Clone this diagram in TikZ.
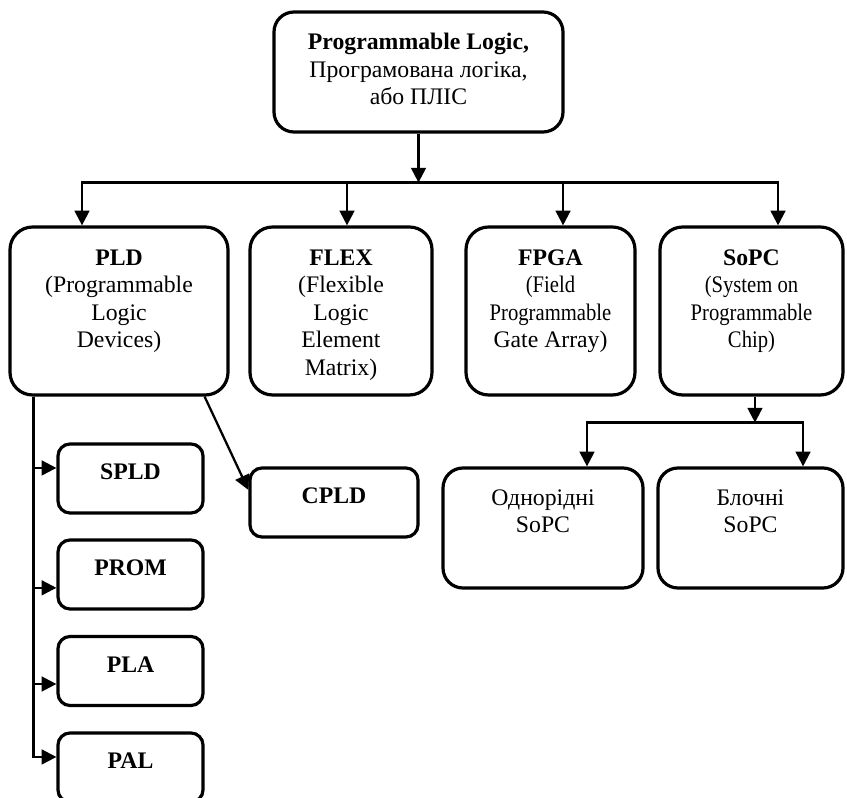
\documentclass[tikz,border=0pt]{standalone}
\usepackage{fontspec}
\setmainfont{Liberation Serif}
\usepackage{graphicx}
\usetikzlibrary{arrows.meta,positioning}

% squeezed lines in the narrow boxes
\newcommand{\condtxt}[1]{\scalebox{0.87}[1]{#1}}

\tikzset{
  box/.style={draw, line width=2.4pt, rounded corners=17pt, inner sep=0pt, minimum height=126pt},
  smallbox/.style={box, rounded corners=9pt, minimum width=108.75pt, minimum height=51.75pt},
  lbl/.style={align=center, inner sep=0pt, font=\fontsize{17.8pt}{20.6pt}\selectfont},
  conn/.style={line width=1.7pt},
  arr/.style={conn, -{Triangle[length=11pt,width=11pt]}},
}

\begin{document}
\begin{tikzpicture}[x=0.75pt, y=-0.75pt]
  \useasboundingbox (0,0) rectangle (847,798);

  % root
  \node[box, rounded corners=15pt, minimum width=216.75pt, minimum height=90pt] (top) at (418.5,72) {};
  \node[lbl, below=17pt of top.north] (toptxt) {\textbf{Programmable Logic,}\\Програмована логіка,\\або ПЛІС};

  % main families
  \node[box, minimum width=163.5pt] (pld) at (119,311) {};
  \node[box, minimum width=136.5pt] (flex) at (341,311) {};
  \node[box, minimum width=126.75pt] (fpga) at (550.5,311) {};
  \node[box, minimum width=137.25pt] (sopc) at (751.5,311) {};

  \node[lbl, below=18pt of pld.north] (pldtxt) {\textbf{PLD}\\(Programmable\\Logic\\Devices)};
  \node[lbl, below=18pt of flex.north] (flextxt) {\textbf{FLEX}\\(Flexible\\Logic\\Element\\Matrix)};
  \node[lbl, below=18pt of fpga.north] (fpgatxt) {\textbf{FPGA}\\\condtxt{(Field}\\\condtxt{Programmable}\\Gate Array)};
  \node[lbl, below=18pt of sopc.north] (sopctxt) {\textbf{SoPC}\\\condtxt{(System on}\\\condtxt{Programmable}\\\condtxt{Chip)}};

  % PLD kinds
  \node[smallbox] (spld) at (130.5,478.5) {};
  \node[smallbox] (prom) at (130.5,574.5) {};
  \node[smallbox] (pla) at (130.5,671) {};
  \node[smallbox] (pal) at (130.5,767.5) {};
  \node[smallbox, minimum width=126pt] (cpld) at (334,502.5) {};

  \node[lbl, below=16pt of spld.north] (spldtxt) {\textbf{SPLD}};
  \node[lbl, below=16pt of prom.north] (promtxt) {\textbf{PROM}};
  \node[lbl, below=16pt of pla.north] (platxt) {\textbf{PLA}};
  \node[lbl, below=16pt of pal.north] (paltxt) {\textbf{PAL}};
  \node[lbl, below=16pt of cpld.north] (cpldtxt) {\textbf{CPLD}};

  % SoPC kinds
  \node[box, rounded corners=15pt, minimum width=150pt, minimum height=90pt] (odn) at (543,528) {};
  \node[box, rounded corners=15pt, minimum width=138.75pt, minimum height=90pt] (blo) at (750.5,528) {};
  \node[lbl, below=17pt of odn.north] (odntxt) {Однорідні\\SoPC};
  \node[lbl, below=17pt of blo.north] (blotxt) {Блочні\\SoPC};

  % root -> families
  \coordinate[below=36.75pt of top.south] (bus);
  \draw[arr] (top) -- (bus);
  \foreach \n/\dx in {pld/-27.75pt, flex/4.5pt, fpga/9.4pt, sopc/19.9pt}
    \draw[arr] (bus) -| ([xshift=\dx]\n.north);

  % PLD -> kinds
  \coordinate (trunk) at ([xshift=18.75pt]pld.south west);
  \foreach \n/\dy in {spld/7.9pt, prom/-10pt, pla/-9.75pt, pal/7.9pt}
    \draw[arr] (trunk) |- ([yshift=\dy]\n.west);
  \draw[arr] ([xshift=-18.75pt]pld.south east) -- ([yshift=9.4pt]cpld.west);

  % SoPC -> kinds
  \coordinate (sbus) at ([shift={(2.6pt,-19.5pt)}]sopc.south);
  \draw[arr] ([xshift=2.6pt]sopc.south) -- (sbus);
  \draw[arr] (sbus) -| ([xshift=33pt]odn.north);
  \draw[arr] (sbus) -| ([xshift=39.4pt]blo.north);
\end{tikzpicture}
\end{document}
